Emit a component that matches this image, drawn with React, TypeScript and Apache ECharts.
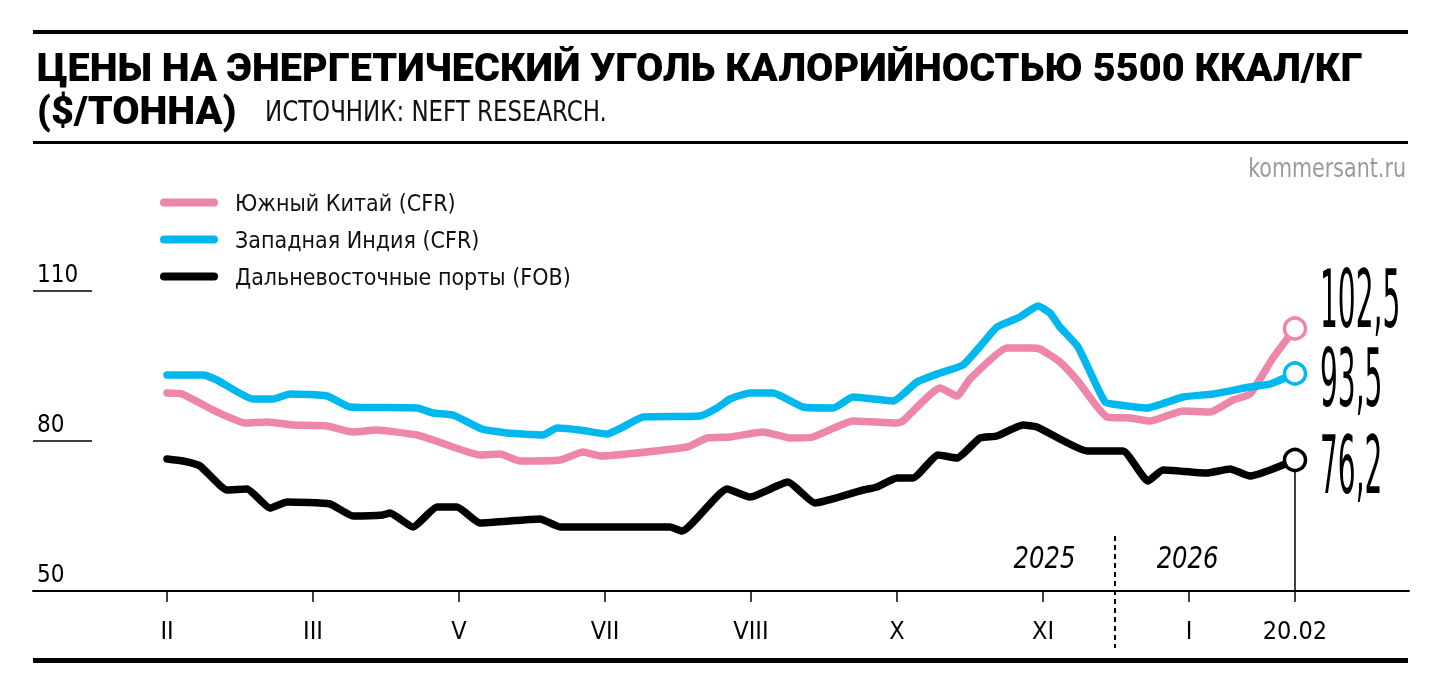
import React, { useEffect, useRef } from 'react';
import * as echarts from 'echarts';

// ---- data ----
const tickPositions = [0, 1, 2, 3, 4, 5, 6, 7, 7.726];
const tickLabels = ['II', 'III', 'V', 'VII', 'VIII', 'X', 'XI', 'I', '20.02'];

const seriesNames = ['Южный Китай (CFR)', 'Западная Индия (CFR)', 'Дальневосточные порты (FOB)'];
const seriesColors = ['#EE86AB', '#00B8EE', '#000000'];
const endLabels = ['102,5', '93,5', '76,2'];

const pinkX = [0, 0.103, 0.342, 0.534, 0.685, 0.863, 1.096, 1.274, 1.438, 1.712, 1.822, 1.938, 2.144, 2.281, 2.418, 2.692, 2.849, 2.966, 3.151, 3.562, 3.699, 3.856, 4.082, 4.267, 4.425, 4.699, 5.0, 5.041, 5.295, 5.411, 5.5, 5.753, 5.911, 5.979, 6.116, 6.233, 6.438, 6.596, 6.733, 6.959, 7.144, 7.301, 7.418, 7.575, 7.726];
const pinkY = [89.6, 89.4, 85.8, 83.6, 83.8, 83.2, 83.0, 81.8, 82.2, 81.2, 80.2, 79.0, 77.2, 77.4, 76.0, 76.2, 77.8, 77.0, 77.4, 78.8, 80.6, 80.8, 81.8, 80.6, 80.8, 84.0, 83.6, 84.0, 90.6, 89.0, 92.4, 98.6, 98.6, 98.4, 95.8, 92.2, 84.8, 84.6, 84.0, 86.0, 85.8, 88.2, 89.4, 96.6, 102.5];

const blueX = [0, 0.247, 0.342, 0.589, 0.726, 0.842, 1.096, 1.253, 1.712, 1.822, 1.959, 2.158, 2.329, 2.575, 2.671, 2.829, 3.014, 3.123, 3.26, 3.651, 3.767, 3.856, 3.993, 4.151, 4.356, 4.562, 4.699, 4.973, 5.137, 5.295, 5.452, 5.589, 5.685, 5.842, 5.966, 6.048, 6.116, 6.24, 6.425, 6.527, 6.712, 6.959, 7.164, 7.418, 7.555, 7.726];
const blueY = [93.2, 93.2, 92.2, 88.4, 88.4, 89.4, 89.0, 86.8, 86.6, 85.6, 85.2, 82.4, 81.6, 81.2, 82.6, 82.2, 81.4, 82.8, 84.8, 85.0, 86.6, 88.4, 89.6, 89.6, 86.8, 86.6, 88.8, 88.0, 91.8, 93.6, 95.2, 99.6, 102.8, 104.8, 107.0, 105.6, 102.8, 98.8, 87.8, 87.2, 86.6, 88.8, 89.4, 90.8, 91.4, 93.5];

const blackX = [0, 0.11, 0.226, 0.411, 0.548, 0.705, 0.822, 1.116, 1.274, 1.479, 1.527, 1.685, 1.849, 1.986, 2.144, 2.555, 2.692, 3.445, 3.527, 3.836, 3.993, 4.253, 4.438, 4.767, 4.863, 5.0, 5.11, 5.281, 5.411, 5.568, 5.685, 5.863, 5.959, 6.301, 6.548, 6.719, 6.822, 7.123, 7.281, 7.418, 7.726];
const blackY = [76.4, 76.0, 75.0, 70.2, 70.4, 66.6, 67.8, 67.4, 65.0, 65.2, 65.6, 62.8, 66.8, 66.8, 63.6, 64.4, 62.8, 62.8, 62.0, 70.4, 68.8, 71.8, 67.6, 70.2, 70.8, 72.6, 72.6, 77.2, 76.6, 80.6, 81.0, 83.2, 82.8, 78.0, 78.0, 72.0, 74.2, 73.6, 74.4, 73.0, 76.2];

const yMin = 50;
const yMax = 110;
const yInterval = 30;

const yearLabels = ['2025', '2026'];
const yearPositions = [6.01, 6.99];
const yearLevel = 56.6;
const yearDivider = 6.493;
const dividerRange = [61, 38.6];

const TITLE_1 = 'ЦЕНЫ НА ЭНЕРГЕТИЧЕСКИЙ УГОЛЬ КАЛОРИЙНОСТЬЮ 5500 ККАЛ/КГ';
const TITLE_2 = '($/ТОННА)';
const SOURCE = 'ИСТОЧНИК: NEFT RESEARCH.';
const BRAND = 'kommersant.ru';

const NARROW = '"Liberation Sans Narrow", "DejaVu Sans Condensed", "Liberation Sans", sans-serif';
const HEAVY = 'Roboto, "Liberation Sans", sans-serif';

function zip(xs: number[], ys: number[]) {
  return xs.map((x, i) => [x, ys[i]]);
}

export default function App() {
  const ref = useRef<HTMLDivElement>(null);
  useEffect(() => {
    if (!ref.current) return;
    const chart = echarts.init(ref.current, null, { renderer: 'svg' });
    const allX = [pinkX, blueX, blackX];
    const allY = [pinkY, blueY, blackY];

    const lineSeries = [1, 0, 2].map((si) => {
      const pts = zip(allX[si], allY[si]);
      const data: any[] = pts.map((p, i) =>
        i === pts.length - 1
          ? {
              value: p,
              symbol: 'circle',
              symbolSize: 21,
              itemStyle: { color: '#fff', borderColor: seriesColors[si], borderWidth: 3.5 },
            }
          : { value: p, symbol: 'none' }
      );
      return {
        type: 'line',
        name: seriesNames[si],
        data,
        showSymbol: true,
        symbol: 'none',
        color: seriesColors[si],
        itemStyle: { color: seriesColors[si] },
        lineStyle: { color: seriesColors[si], width: 7.5, cap: 'round', join: 'round' },
        smooth: 0.15,
        clip: false,
        silent: true,
        z: 3 + si,
        emphasis: { disabled: true },
      };
    });

    const lastIdx = blackX.length - 1;
    const dropSeries = {
      type: 'line',
      name: 'drop',
      data: [
        [blackX[lastIdx], yMin],
        [blackX[lastIdx], blackY[lastIdx]],
      ],
      symbol: 'none',
      lineStyle: { color: '#000', width: 1.5 },
      clip: false,
      silent: true,
      z: 1,
    };
    const dividerSeries = {
      type: 'line',
      name: 'divider',
      data: [
        [yearDivider, dividerRange[0]],
        [yearDivider, dividerRange[1]],
      ],
      symbol: 'none',
      lineStyle: { color: '#000', width: 2, type: [5, 4] },
      clip: false,
      silent: true,
      z: 1,
    };

    const option: any = {
      animation: false,
      grid: { left: 33, right: 31, top: 291, bottom: 103, outerBoundsMode: 'none' },
      legend: {
        orient: 'vertical',
        left: 160,
        top: 191,
        padding: 0,
        itemWidth: 58,
        itemHeight: 8,
        itemGap: 14,
        icon: 'path://M4,0 H54 A4,4 0 0 1 54,8 H4 A4,4 0 0 1 4,0 Z',
        data: seriesNames,
        selectedMode: false,
        textStyle: { fontFamily: NARROW, fontSize: 23, color: '#111', padding: [0, 0, 0, 12] },
      },
      xAxis: {
        type: 'value',
        min: -0.918,
        max: 8.507,
        splitLine: { show: false },
        axisLine: { onZero: false, lineStyle: { color: '#000', width: 2 } },
        axisTick: { show: true, customValues: tickPositions, length: 11, lineStyle: { color: '#000', width: 1.5 } },
        axisLabel: {
          customValues: tickPositions,
          formatter: (v: number) => {
            let best = 0;
            tickPositions.forEach((t, i) => {
              if (Math.abs(t - v) < Math.abs(tickPositions[best] - v)) best = i;
            });
            return tickLabels[best];
          },
          fontFamily: NARROW,
          fontSize: 25,
          color: '#000',
          margin: 27,
        },
      },
      yAxis: {
        type: 'value',
        min: yMin,
        max: yMax,
        interval: yInterval,
        position: 'left',
        axisLine: { show: false, onZero: false },
        splitLine: { show: false },
        axisTick: { show: true, inside: true, length: 59, lineStyle: { color: '#000', width: 1.5 } },
        axisLabel: {
          inside: true,
          margin: 4,
          verticalAlign: 'bottom',
          align: 'left',
          padding: [0, 0, 5, 0],
          fontFamily: NARROW,
          fontSize: 24,
          color: '#000',
        },
      },
      series: [...lineSeries, dropSeries, dividerSeries],
    };
    chart.setOption(option);

    const graphics: any[] = [
      { type: 'rect', shape: { x: 33, y: 30, width: 1375, height: 4 }, style: { fill: '#000' } },
      {
        type: 'text',
        x: 37,
        y: 67,
        style: { text: TITLE_1, font: `900 39.6px ${HEAVY}`, fill: '#000', verticalAlign: 'middle' },
      },
      {
        type: 'text',
        x: 37,
        y: 110,
        style: { text: TITLE_2, font: `900 39.6px ${HEAVY}`, fill: '#000', verticalAlign: 'middle' },
      },
      {
        type: 'text',
        x: 265,
        y: 111,
        scaleX: 0.91,
        style: { text: SOURCE, font: `28px ${NARROW}`, fill: '#111', verticalAlign: 'middle' },
      },
      { type: 'rect', shape: { x: 33, y: 141, width: 1375, height: 3 }, style: { fill: '#000' } },
      {
        type: 'text',
        x: 1406,
        y: 168,
        scaleX: 0.85,
        style: { text: BRAND, font: `27px ${NARROW}`, fill: '#9a9a9a', align: 'right', verticalAlign: 'middle' },
      },
      { type: 'rect', shape: { x: 33, y: 658, width: 1375, height: 5 }, style: { fill: '#000' } },
    ];

    const labelDy = [-29, 5, 5];
    [0, 1, 2].forEach((si) => {
      const xs = allX[si];
      const ys = allY[si];
      const p = chart.convertToPixel({ gridIndex: 0 }, [xs[xs.length - 1], ys[ys.length - 1]]) as number[];
      graphics.push({
        type: 'text',
        x: p[0] + 25,
        y: p[1] + labelDy[si],
        scaleX: 0.39,
        style: { text: endLabels[si], font: `80px ${NARROW}`, fill: '#000', verticalAlign: 'middle' },
      });
    });
    yearLabels.forEach((t, i) => {
      const p = chart.convertToPixel({ gridIndex: 0 }, [yearPositions[i], yearLevel]) as number[];
      graphics.push({
        type: 'text',
        x: p[0],
        y: p[1],
        scaleX: 0.9,
        style: { text: t, font: `italic 30px ${NARROW}`, fill: '#000', align: 'center', verticalAlign: 'middle' },
      });
    });
    chart.setOption({ graphic: graphics });

    return () => chart.dispose();
  }, []);
  return <div ref={ref} style={{ position: 'fixed', left: 0, top: 0, width: 1440, height: 694 }} />;
}
